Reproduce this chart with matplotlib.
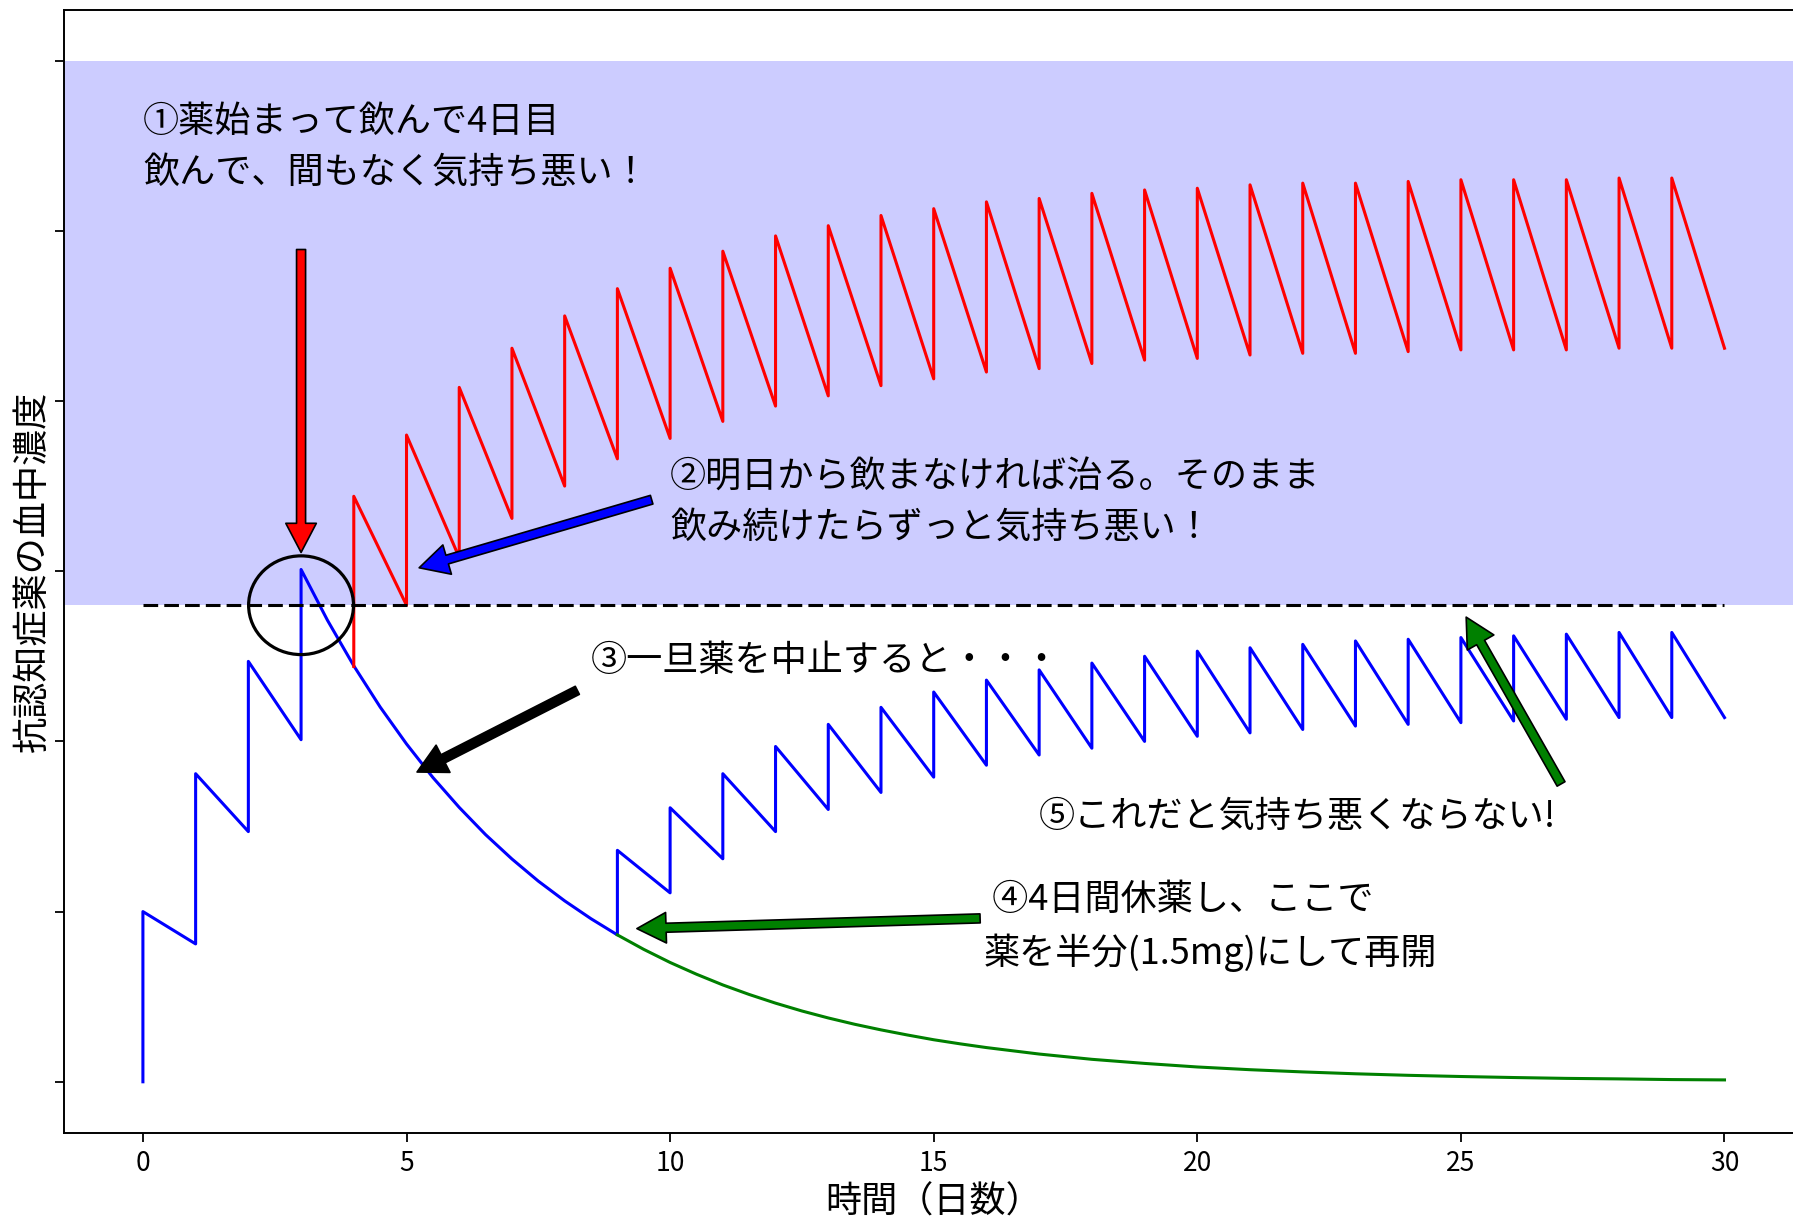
import matplotlib
matplotlib.use('Agg')
import matplotlib.pyplot as plt
from matplotlib.patches import Ellipse

plt.rcParams['font.family'] = ['Noto Sans CJK JP', 'DejaVu Sans']

# ---------------- data ----------------
threshold = 2.8          # nausea threshold (dashed line / bottom of shaded band)
band_top = 6.0           # top of shaded band
highlight_day = 3        # circled point

# first four daily doses (full dose)
start_days = [0, 1, 2, 3]
start_trough = [0.00, 0.81, 1.47, 2.01]
start_peak = [1.00, 1.81, 2.47, 3.01]

# wash-out after stopping on day 3
washout_days = [3.5, 4, 4.5, 5, 5.5, 6, 6.5, 7, 7.5, 8, 8.5, 9]
washout_conc = [2.712, 2.444, 2.202, 1.985, 1.788, 1.612, 1.452, 1.309,
                1.179, 1.063, 0.958, 0.863]

# continuing full dose from day 4 (red)
red_days = list(range(4, 30))
red_trough = [2.44, 2.80, 3.08, 3.31, 3.50, 3.66, 3.78, 3.88, 3.97, 4.03,
              4.09, 4.13, 4.17, 4.19, 4.22, 4.24, 4.25, 4.27, 4.28, 4.28,
              4.29, 4.30, 4.30, 4.30, 4.31, 4.31]
red_peak = [3.44, 3.80, 4.08, 4.31, 4.50, 4.66, 4.78, 4.88, 4.97, 5.03,
            5.09, 5.13, 5.17, 5.19, 5.22, 5.24, 5.25, 5.27, 5.28, 5.28,
            5.29, 5.30, 5.30, 5.30, 5.31, 5.31]
red_end_day, red_end_conc = 30, 4.31

# restart with half dose from day 9 (blue)
half_days = list(range(9, 30))
half_trough = [0.863, 1.11, 1.31, 1.47, 1.60, 1.70, 1.79, 1.86, 1.92, 1.96,
               2.00, 2.03, 2.05, 2.07, 2.09, 2.10, 2.11, 2.12, 2.13, 2.14, 2.14]
half_peak = [1.36, 1.61, 1.81, 1.97, 2.10, 2.20, 2.29, 2.36, 2.42, 2.46,
             2.50, 2.53, 2.55, 2.57, 2.59, 2.60, 2.61, 2.62, 2.63, 2.64, 2.64]
half_end_day, half_end_conc = 30, 2.14

# no restart (green)
green_days = [9, 9.5, 10, 10.5, 11, 11.5, 12, 12.5, 13, 13.5, 14, 14.5, 15, 15.5,
              16, 17, 18, 19, 20, 21, 22, 23, 24, 25, 26, 27, 28, 29, 30]
green_conc = [0.863, 0.778, 0.701, 0.632, 0.569, 0.513, 0.462, 0.416, 0.375,
              0.338, 0.305, 0.275, 0.247, 0.223, 0.201, 0.163, 0.132, 0.108,
              0.087, 0.071, 0.058, 0.047, 0.038, 0.031, 0.025, 0.020, 0.017,
              0.013, 0.011]

x_ticks = [0, 5, 10, 15, 20, 25, 30]
y_ticks = [0, 1, 2, 3, 4, 5, 6]

xlabel = '時間（日数）'
ylabel = '抗認知症薬の血中濃度'
note1 = '①薬始まって飲んで4日目\n飲んで、間もなく気持ち悪い！'
note2 = '②明日から飲まなければ治る。そのまま\n飲み続けたらずっと気持ち悪い！'
note3 = '③一旦薬を中止すると・・・'
note4 = ' ④4日間休薬し、ここで\n薬を半分(1.5mg)にして再開'
note5 = '⑤これだと気持ち悪くならない!'


def sawtooth(days, troughs, peaks):
    xs, ys = [], []
    for d, t, p in zip(days, troughs, peaks):
        xs += [d, d]
        ys += [t, p]
    return xs, ys


# blue: start -> washout -> half-dose restart
bx, by = sawtooth(start_days, start_trough, start_peak)
bx += washout_days
by += washout_conc
hx, hy = sawtooth(half_days, half_trough, half_peak)
bx += hx + [half_end_day]
by += hy + [half_end_conc]

rx, ry = sawtooth(red_days, red_trough, red_peak)
rx.append(red_end_day)
ry.append(red_end_conc)

# ---------------- figure ----------------
fig = plt.figure(figsize=(17.93, 12.21), dpi=100)
ax = fig.add_axes([0.0356, 0.0722, 0.9703, 0.920])

ax.axhspan(threshold, band_top, color='blue', alpha=0.2, lw=0, zorder=0)
ax.hlines(threshold, 0, 30, colors='black', linestyles=(0, (4.8, 2.0)), lw=2.2, zorder=3)

ax.plot(bx, by, color='blue', lw=2.2, zorder=2)
ax.plot(rx, ry, color='red', lw=2.2, zorder=2)
ax.plot(green_days, green_conc, color='green', lw=2.2, zorder=2)

ax.add_patch(Ellipse((highlight_day, threshold), 1.99, 0.58, fill=False,
                     ec='black', lw=2.3, zorder=4))


def arrow(tail, tip, color):
    ax.annotate('', xy=tip, xytext=tail,
                arrowprops=dict(facecolor=color, edgecolor='black', width=6.5,
                                headwidth=22, headlength=21, lw=1.2, shrink=0),
                zorder=5)


arrow((3, 4.89), (3, 3.11), 'red')
arrow((9.65, 3.42), (5.24, 3.02), 'blue')
arrow((8.24, 2.30), (5.20, 1.82), 'black')
arrow((15.88, 0.96), (9.37, 0.90), 'green')
arrow((26.9, 1.75), (25.1, 2.73), 'green')

tkw = dict(fontsize=26, ha='left', va='center', linespacing=1.5, zorder=6)
ax.text(0.0, 5.49, note1, **tkw)
ax.text(10.0, 3.40, note2, **tkw)
ax.text(8.5, 2.47, note3, **tkw)
ax.text(15.95, 0.91, note4, **tkw)
ax.text(17.0, 1.56, note5, **tkw)

ax.set_xlim(-1.5, 31.5)
ax.set_ylim(-0.3, 6.3)
ax.set_xticks(x_ticks)
ax.set_yticks(y_ticks)
ax.set_yticklabels([])
ax.tick_params(length=6.5, width=1.3, labelsize=19, pad=6)
for s in ax.spines.values():
    s.set_linewidth(1.4)
ax.set_xlabel(xlabel, fontsize=26, labelpad=5)
ax.set_ylabel(ylabel, fontsize=26, labelpad=-3)

fig.savefig('out.png', dpi=100)
